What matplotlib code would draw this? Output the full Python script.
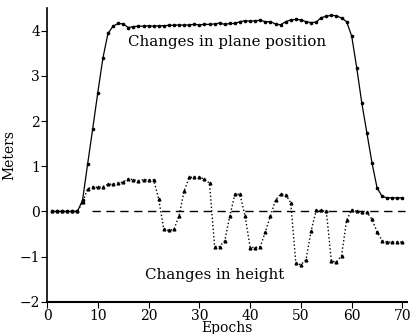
import numpy as np
import matplotlib
matplotlib.use("Agg")
import matplotlib.pyplot as plt

plt.rcParams['font.family'] = ['DejaVu Serif']

# epochs and the two series
epochs = np.arange(1, 71)
plane = [0, 0, 0, 0, 0, 0, 0.25, 1.05, 1.83, 2.63,
         3.39, 3.94, 4.10, 4.16, 4.15, 4.07, 4.09, 4.10, 4.10, 4.11,
         4.10, 4.11, 4.11, 4.12, 4.12, 4.13, 4.12, 4.13, 4.14, 4.13,
         4.14, 4.14, 4.15, 4.17, 4.14, 4.16, 4.16, 4.20, 4.22, 4.21,
         4.22, 4.23, 4.20, 4.20, 4.15, 4.13, 4.20, 4.24, 4.25, 4.24,
         4.20, 4.18, 4.19, 4.29, 4.32, 4.34, 4.33, 4.28, 4.20, 3.88,
         3.17, 2.39, 1.73, 1.07, 0.52, 0.33, 0.30, 0.30, 0.30, 0.30]
height = [0, 0, 0, 0, 0, 0, 0.20, 0.50, 0.55, 0.53,
          0.55, 0.60, 0.60, 0.62, 0.65, 0.72, 0.70, 0.68, 0.70, 0.70,
          0.70, 0.27, -0.40, -0.42, -0.40, -0.10, 0.45, 0.75, 0.76, 0.75,
          0.72, 0.62, -0.78, -0.78, -0.65, -0.10, 0.38, 0.38, -0.10, -0.80,
          -0.80, -0.78, -0.45, -0.10, 0.25, 0.38, 0.37, 0.19, -1.15, -1.18,
          -1.07, -0.44, 0.02, 0.02, 0.00, -1.10, -1.12, -0.98, -0.20, 0.04,
          0.00, -0.01, -0.02, -0.18, -0.45, -0.65, -0.68, -0.68, -0.68, -0.68]

fig = plt.figure(figsize=(4.11, 3.34), dpi=100)
ax = fig.add_axes([0.1144, 0.0967, 0.876, 0.879])

ax.hlines(0, 8.8, 70.5, colors='black', linestyles=(0, (6, 4)), linewidth=1)
ax.plot(epochs, plane, '-', color='black', linewidth=0.9,
        marker='o', markersize=1.6)
ax.plot(epochs, height, ':', color='black', linewidth=1.0,
        marker='^', markersize=2.0)

ax.text(35.4, 3.75, 'Changes in plane position', ha='center', va='center',
        fontsize=10.8)
ax.text(33, -1.4, 'Changes in height', ha='center', va='center',
        fontsize=10.8)

ax.set_xlim(0, 70.9)
ax.set_ylim(-2, 4.5)
ax.set_xticks(np.arange(0, 71, 10))
ax.set_yticks(np.arange(-2, 5, 1))
ax.spines['top'].set_visible(False)
ax.spines['right'].set_visible(False)
ax.spines['left'].set_linewidth(1.2)
ax.spines['bottom'].set_linewidth(1.5)
ax.tick_params(direction='out', length=4, labelsize=10, pad=1)
ax.set_xlabel('Epochs', fontsize=10, labelpad=-1)
ax.set_ylabel('Meters', fontsize=10, labelpad=2)

fig.savefig('out.png', dpi=100)
